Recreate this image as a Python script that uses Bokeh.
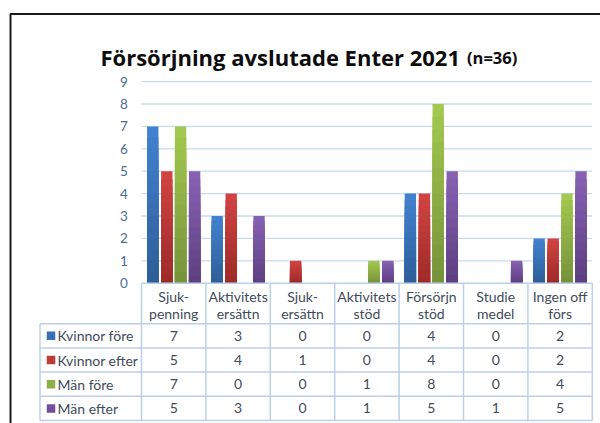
from bokeh.plotting import figure
from bokeh.models import Range1d
from bokeh.core.properties import value
from bokeh.embed import file_html
from bokeh.resources import INLINE
import numpy as np

# ---------------- data ----------------
title_main = "Försörjning avslutade Enter 2021"
title_sub = "(n=36)"
categories = ["Sjuk-\npenning", "Aktivitets\nersättn", "Sjuk-\nersättn", "Aktivitets\nstöd",
              "Försörjn\nstöd", "Studie\nmedel", "Ingen off\nförs"]
series_names = ["Kvinnor före", "Kvinnor efter", "Män före", "Män efter"]
kvinnor_fore = [7, 3, 0, 0, 4, 0, 2]
kvinnor_efter = [5, 4, 1, 0, 4, 0, 2]
man_fore = [7, 0, 0, 1, 8, 0, 4]
man_efter = [5, 3, 0, 1, 5, 1, 5]
y_ticks = [0, 1, 2, 3, 4, 5, 6, 7, 8, 9]

series_values = [kvinnor_fore, kvinnor_efter, man_fore, man_efter]

# ---------------- styles ----------------
top_colors = ["#4282d2", "#d24442", "#a4ca50", "#8862b4"]
bot_colors = ["#2d5e97", "#9c2a27", "#76923a", "#5c3f80"]
key_colors = ["#3670b8", "#c03a37", "#8cb044", "#734f9c"]
grid_color = "#c8daf0"
table_line = "#bccfe8"
text_color = "#3f4b5a"
tick_color = "#4d6c94"
FONT = "Lato"
TFONT = "Open Sans"

# layout in page pixels
COL0 = 141.0      # left edge of first category column
COLW = 64.4       # category column width
ZERO = 282.7      # y of value 0
UNIT = 22.4       # pixels per unit
LEG_L = 39.5      # left edge of legend column
HEAD_H = 40.5
ROW_H = 24.2
W, H = 600, 423


def X(px):
    return (px - COL0) / COLW


def Y(py):
    return (ZERO - py) / UNIT


p = figure(width=W, height=H, output_backend="svg", toolbar_location=None,
           x_axis_type=None, y_axis_type=None, min_border=0,
           x_range=Range1d(X(0), X(W)), y_range=Range1d(Y(H), Y(0)))
p.outline_line_color = None
p.background_fill_color = "white"
p.border_fill_color = "white"
p.xgrid.visible = False
p.ygrid.visible = False

ncat = len(categories)

# gridlines
gy = [t for t in y_ticks if t > 0]
p.segment(x0=[0] * len(gy), x1=[ncat] * len(gy), y0=gy, y1=gy,
          line_color=grid_color, line_width=1.3)

# y tick labels
p.text(x=[X(123.5)] * len(y_ticks), y=y_ticks, text=[str(t) for t in y_ticks],
       text_font=value(FONT), text_font_size="13.5px", text_color=tick_color,
       text_align="center", text_baseline="middle")

# bars with vertical gradient
def hex2rgb(h):
    return np.array([int(h[i:i + 2], 16) for i in (1, 3, 5)], dtype=float)


def rgb2hex(c):
    return "#%02x%02x%02x" % tuple(int(round(v)) for v in c)


offsets = [-0.325, -0.107, 0.107, 0.325]
bar_w = 0.176
K = 14
cx = np.arange(ncat) + 0.5
for s, vals in enumerate(series_values):
    v = np.array(vals, dtype=float)
    ct, cb = hex2rgb(top_colors[s]), hex2rgb(bot_colors[s])
    for k in range(K):
        frac = (K - k) / K
        t = (K - k - 0.5) / K
        col = rgb2hex(cb + (ct - cb) * t)
        p.vbar(x=cx + offsets[s], width=bar_w, bottom=0, top=v * frac,
               fill_color=col, line_color=None)

# table
head_bot = ZERO + HEAD_H
row_lines = [head_bot + ROW_H * i for i in range(len(series_names) + 1)]
bottom = row_lines[-1]
# horizontal lines
p.segment(x0=[0], x1=[ncat], y0=[0], y1=[0], line_color=table_line, line_width=1.5)
p.segment(x0=[X(LEG_L)] * len(row_lines), x1=[ncat] * len(row_lines),
          y0=[Y(r) for r in row_lines], y1=[Y(r) for r in row_lines],
          line_color=table_line, line_width=1.5)
# vertical lines
vx = list(range(ncat + 1))
p.segment(x0=vx, x1=vx, y0=[0] * len(vx), y1=[Y(bottom)] * len(vx),
          line_color=table_line, line_width=1.5)
p.segment(x0=[X(LEG_L)], x1=[X(LEG_L)], y0=[Y(head_bot)], y1=[Y(bottom)],
          line_color=table_line, line_width=1.5)

# header texts
l1 = [c.split("\n")[0] for c in categories]
l2 = [c.split("\n")[1] for c in categories]
p.text(x=cx, y=[Y(ZERO + 12.8)] * ncat, text=l1, text_font=value(FONT),
       text_font_size="14px", text_color=text_color, text_align="center",
       text_baseline="middle")
p.text(x=cx, y=[Y(ZERO + 30.3)] * ncat, text=l2, text_font=value(FONT),
       text_font_size="14px", text_color=text_color, text_align="center",
       text_baseline="middle")

# rows
for s, name in enumerate(series_names):
    yc = Y(head_bot + ROW_H * (s + 0.5))
    p.scatter(x=[X(50.5)], y=[yc], marker="square", size=8.5,
              fill_color=key_colors[s], line_color=None)
    p.text(x=[X(57)], y=[yc], text=[name], text_font=value(FONT),
           text_font_size="14px", text_color=text_color, text_align="left",
           text_baseline="middle")
    p.text(x=cx, y=[yc] * ncat, text=[str(v) for v in series_values[s]],
           text_font=value(FONT), text_font_size="14px", text_color=text_color,
           text_align="center", text_baseline="middle")

# title
p.text(x=[X(100)], y=[Y(56.7)], text=[title_main], text_font=value(TFONT),
       text_font_style="bold", text_font_size="22px", text_color="#0d0d0d",
       text_align="left", text_baseline="alphabetic")
p.text(x=[X(466.5)], y=[Y(56.7)], text=[title_sub], text_font=value(TFONT),
       text_font_style="bold", text_font_size="16.5px", text_color="#0d0d0d",
       text_align="left", text_baseline="alphabetic")

# chart border (left and top edges visible)
p.line(x=[X(10), X(10), X(620)], y=[Y(440), Y(13.5), Y(13.5)],
       line_color="#1a1a1a", line_width=2)

open("out.html", "w").write(file_html(p, INLINE))
